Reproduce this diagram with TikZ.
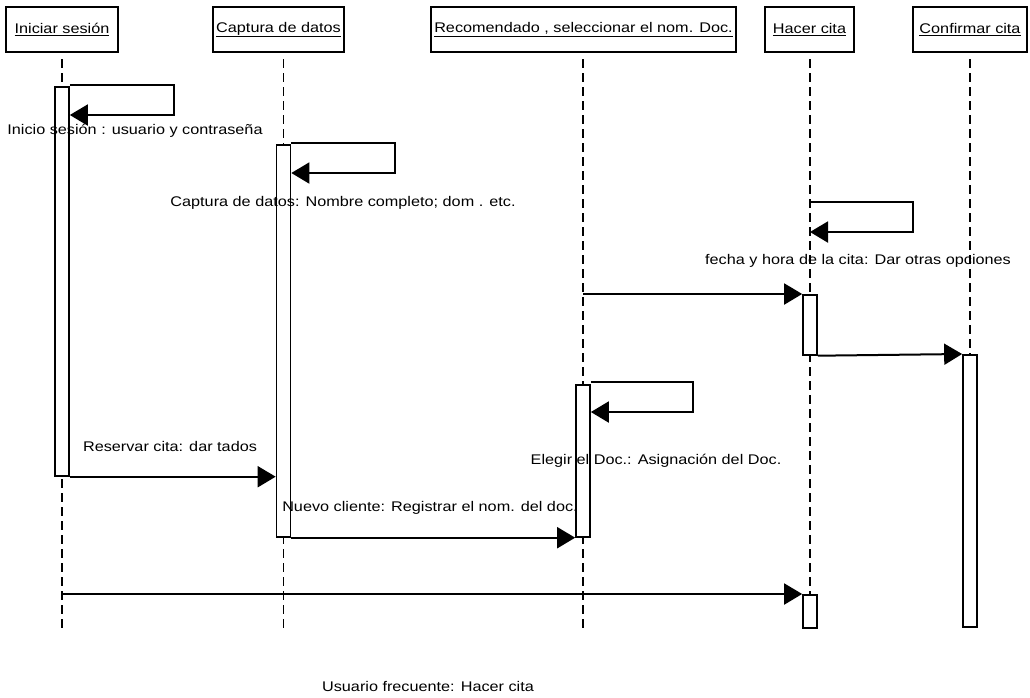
\documentclass[tikz,border=0pt]{standalone}
\usepackage{fontspec}
\setmainfont[FakeStretch=1.16]{Liberation Sans}
\usetikzlibrary{arrows.meta}
\tikzset{
  hdr/.style={draw=black,line width=2pt,fill=white,inner sep=0pt,minimum height=45pt,font=\fontsize{14}{16}\selectfont},
  lifeline/.style={line width=1.8pt,dash pattern=on 9pt off 5pt},
  act/.style={draw=black,fill=white,line width=1.7pt,minimum width=14pt,inner sep=0pt,anchor=north},
  msg/.style={line width=2pt,-{Triangle[length=18pt,width=21pt]}},
  lbl/.style={inner sep=0pt,font=\fontsize{14}{16}\selectfont}
}
\begin{document}
\begin{tikzpicture}[x=1pt,y=-1pt]
\useasboundingbox (0,0) rectangle (1030,697);
% headers
\node[hdr,minimum width=112pt] (h1) at (62,29.5) {\underline{Iniciar sesión}};
\node[hdr,minimum width=131pt] (h2) at (278.5,29.5) {\underline{Captura de datos}};
\node[hdr,minimum width=305pt] (h3) at (583.5,29.5) {\underline{Recomendado , seleccionar el nom. Doc.}};
\node[hdr,minimum width=89pt] (h4) at (809.5,29.5) {\underline{Hacer cita}};
\node[hdr,minimum width=114pt] (h5) at (970,29.5) {\underline{Confirmar cita}};
% lifeline ends
\coordinate (e1) at (62,630);
\coordinate (e2) at (283.5,630);
\coordinate (e3) at (583,630);
\coordinate (e4) at (810,627);
\coordinate (e5) at (970,626);
\draw[lifeline] ([yshift=-6pt]h1.south -| e1) -- (e1);
\draw[lifeline] ([yshift=-6pt]h2.south -| e2) -- (e2);
\draw[lifeline] ([yshift=-6pt]h3.south -| e3) -- (e3);
\draw[lifeline] ([yshift=-6pt]h4.south -| e4) -- (e4);
\draw[lifeline] ([yshift=-6pt]h5.south -| e5) -- (e5);
% activations
\node[act,minimum height=389pt] (a1) at (62,86) {};
\node[act,minimum height=392pt] (a2) at (283.5,144) {};
\node[act,minimum height=152pt] (a3) at (583,384) {};
\node[act,minimum height=60pt] (a4) at (810,294) {};
\node[act,minimum height=272pt] (a5) at (970,354) {};
\node[act,minimum height=33pt] (a6) at (810,594) {};
% self messages
\coordinate (s1a) at (174,85);
\coordinate (s1b) at (174,115);
\draw[msg] (a1.north east |- s1a) -- (s1a) -- (s1b) -- (a1.east |- s1b);
\coordinate (s2a) at (395,143);
\coordinate (s2b) at (395,173);
\draw[msg] (a2.north east |- s2a) -- (s2a) -- (s2b) -- (a2.east |- s2b);
\coordinate (s3a) at (693,382);
\coordinate (s3b) at (693,412);
\draw[msg] (a3.north east |- s3a) -- (s3a) -- (s3b) -- (a3.east |- s3b);
\coordinate (s4a) at (913,202);
\coordinate (s4b) at (913,232);
\draw[msg] (e4 |- s4a) -- (s4a) -- (s4b) -- (e4 |- s4b);
% messages
\draw[msg] (a1.south east) -- (a2.west |- a1.south east);
\draw[msg] (a2.south east) -- (a3.south west);
\draw[msg] (e3 |- a4.north west) -- (a4.north west);
\draw[msg] (a4.south east) -- (a5.north west);
\draw[msg] (e1 |- a6.north west) -- (a6.north west);
% labels
\node[lbl] (l1) at (135,131) {Inicio sesión : usuario y contraseña};
\node[lbl] (l2) at (343,203) {Captura de datos: Nombre completo; dom . etc.};
\node[lbl] (l3) at (858,261) {fecha y hora de la cita: Dar otras opciones};
\node[lbl] (l4) at (170,446) {Reservar cita: dar tados};
\node[lbl] (l5) at (656,461) {Elegir el Doc.: Asignación del Doc.};
\node[lbl] (l6) at (430,508) {Nuevo cliente: Registrar el nom. del doc.};
\node[lbl] (l7) at (428,686) {Usuario frecuente: Hacer cita};
\end{tikzpicture}
\end{document}
